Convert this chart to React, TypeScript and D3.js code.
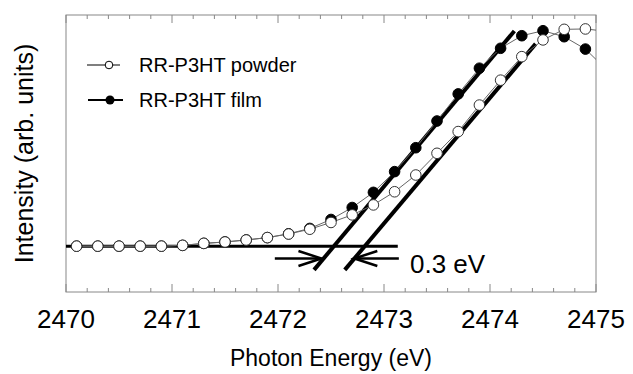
import React from 'react';
import * as d3 from 'd3';

// photon energies of the measured points (eV)
const energies = [
  2470.1, 2470.3, 2470.5, 2470.7, 2470.9, 2471.1, 2471.3, 2471.5, 2471.7, 2471.9,
  2472.1, 2472.3, 2472.5, 2472.7, 2472.9, 2473.1, 2473.3, 2473.5, 2473.7, 2473.9,
  2474.1, 2474.3, 2474.5, 2474.7, 2474.9, 2475.1,
];
const powder = [
  0, 0, 0, 0, 0, 0.004, 0.014, 0.021, 0.031, 0.043,
  0.061, 0.085, 0.119, 0.157, 0.207, 0.273, 0.357, 0.466, 0.575, 0.708,
  0.833, 0.951, 1.035, 1.088, 1.09, 1.078,
];
const film = [
  0, 0, 0, 0, 0, 0.004, 0.014, 0.021, 0.031, 0.043,
  0.062, 0.089, 0.134, 0.194, 0.27, 0.374, 0.494, 0.628, 0.764, 0.893,
  0.993, 1.056, 1.081, 1.051, 0.989, 0.885,
];
// linear fits of the edge, [energy, intensity] end points
const filmFit: [number, number][] = [[2472.34, -0.119], [2474.23, 1.08]];
const powderFit: [number, number][] = [[2472.63, -0.119], [2474.43, 1.015]];
const baseline: [number, number][] = [[2470, 0], [2473.13, 0]];
const arrowY = -0.062;
const leftArrow = [2471.97, 2472.41];
const rightArrow = [2473.14, 2472.72];
const xTicks = [2470, 2471, 2472, 2473, 2474, 2475];
const minorTicks = d3.range(2470, 2475.01, 0.2);

const W = 633;
const H = 374;
const margin = { top: 15, right: 37, bottom: 82, left: 66 };
const font = '"Liberation Sans", Arial, sans-serif';

export default function App() {
  const x = d3.scaleLinear().domain([2470, 2475]).range([margin.left, W - margin.right]);
  const y = d3.scaleLinear().domain([-0.23, 1.16]).range([H - margin.bottom, margin.top]);

  const line = d3.line<[number, number]>()
    .x(d => x(d[0]))
    .y(d => y(d[1]));

  const powderPts = energies.map((e, i) => [e, powder[i]] as [number, number]);
  const filmPts = energies.map((e, i) => [e, film[i]] as [number, number]);

  const x0 = margin.left;
  const x1 = W - margin.right;
  const y0 = margin.top;
  const y1 = H - margin.bottom;

  const arrow = (from: number, to: number) => {
    const dir = Math.sign(to - from);
    const tx = x(to);
    const ty = y(arrowY);
    return (
      <g stroke="#000" strokeWidth={2.5} fill="none">
        <line x1={x(from)} y1={ty} x2={tx} y2={ty} />
        <path d={`M${tx - dir * 23},${ty - 7.5}L${tx},${ty}L${tx - dir * 23},${ty + 7.5}`} />
      </g>
    );
  };

  return (
    <svg width={W} height={H} style={{ position: 'absolute', left: 0, top: 0, background: '#fff' }}>
      <defs>
        <clipPath id="plot-clip">
          <rect x={x0} y={y0} width={x1 - x0} height={y1 - y0} />
        </clipPath>
      </defs>

      {/* frame and ticks */}
      <rect x={x0} y={y0} width={x1 - x0} height={y1 - y0} fill="none" stroke="#888" strokeWidth={1} />
      {minorTicks.map((t, i) => {
        const major = i % 5 === 0;
        const len = major ? 8 : 4;
        return (
          <g key={i} stroke="#888" strokeWidth={1}>
            <line x1={x(t)} x2={x(t)} y1={y1} y2={y1 - len} />
            <line x1={x(t)} x2={x(t)} y1={y0} y2={y0 + len} />
          </g>
        );
      })}
      {xTicks.map(t => (
        <text key={t} x={x(t)} y={328} textAnchor="middle" fontFamily={font} fontSize={26} fill="#000">
          {t}
        </text>
      ))}
      <text x={(x0 + x1) / 2} y={366} textAnchor="middle" fontFamily={font} fontSize={23} fill="#000">
        Photon Energy (eV)
      </text>
      <text
        transform={`translate(33,${(y0 + y1) / 2}) rotate(-90)`}
        textAnchor="middle"
        fontFamily={font}
        fontSize={25}
        fill="#000"
      >
        Intensity (arb. units)
      </text>

      {/* fits and baseline */}
      <g stroke="#000" fill="none" strokeLinecap="butt">
        <path d={line(baseline) || ''} strokeWidth={3} />
        <path d={line(filmFit) || ''} strokeWidth={4} />
        <path d={line(powderFit) || ''} strokeWidth={4} />
      </g>

      {/* data */}
      <g clipPath="url(#plot-clip)">
        <path d={line(filmPts) || ''} fill="none" stroke="#666" strokeWidth={1} />
        <path d={line(powderPts) || ''} fill="none" stroke="#666" strokeWidth={1} />
        {filmPts.map((p, i) => (
          <circle key={'f' + i} cx={x(p[0])} cy={y(p[1])} r={5.3} fill="#000" stroke="#000" strokeWidth={1} />
        ))}
        {powderPts.map((p, i) => (
          <circle key={'p' + i} cx={x(p[0])} cy={y(p[1])} r={5.3} fill="#fff" stroke="#333" strokeWidth={1} />
        ))}
      </g>

      {/* 0.3 eV shift */}
      {arrow(leftArrow[0], leftArrow[1])}
      {arrow(rightArrow[0], rightArrow[1])}
      <text x={410} y={273} fontFamily={font} fontSize={26} fill="#000">0.3 eV</text>

      {/* legend */}
      <g>
        <line x1={87} x2={120} y1={65} y2={65} stroke="#000" strokeWidth={1.2} />
        <circle cx={109} cy={65} r={3.8} fill="#fff" stroke="#000" strokeWidth={1} />
        <text x={139} y={72} fontFamily={font} fontSize={20} fill="#000">RR-P3HT powder</text>
        <line x1={88} x2={123} y1={100} y2={100} stroke="#000" strokeWidth={2} />
        <circle cx={110} cy={100} r={4.5} fill="#000" />
        <text x={139} y={107} fontFamily={font} fontSize={20} fill="#000">RR-P3HT film</text>
      </g>
    </svg>
  );
}
